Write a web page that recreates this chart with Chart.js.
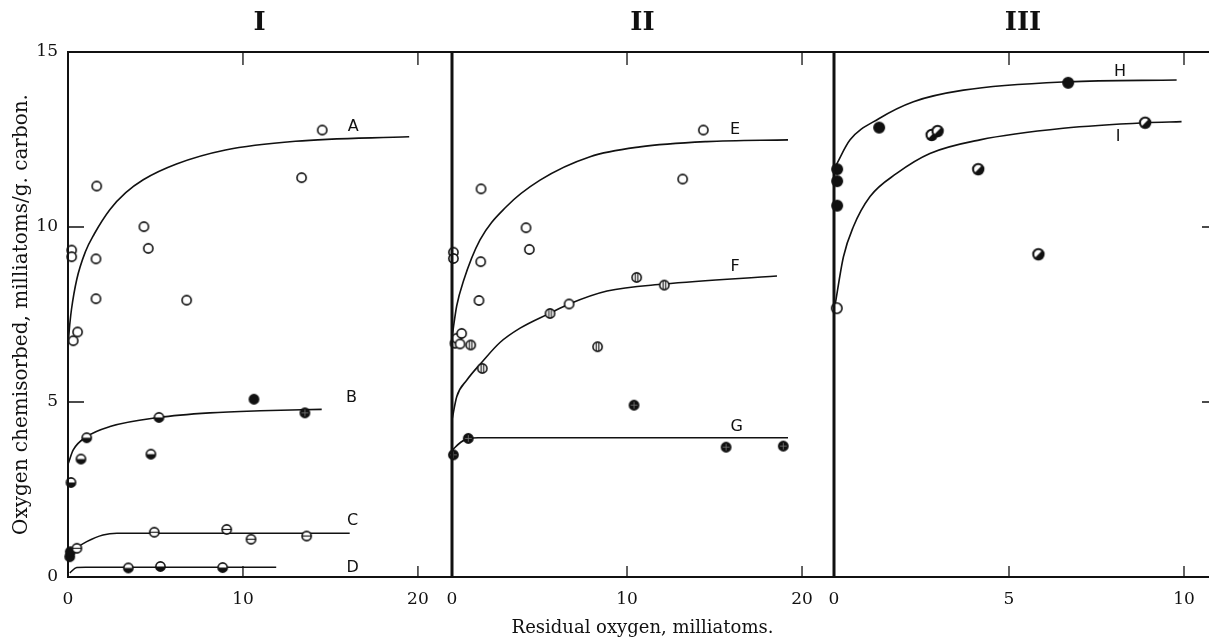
<!DOCTYPE html>
<html>
<head>
<meta charset="utf-8">
<script src="https://cdn.jsdelivr.net/npm/chart.js@4.4.1/dist/chart.umd.min.js"></script>
<style>
  html, body { margin: 0; padding: 0; background: #fff; overflow: hidden; width: 1209px; height: 644px; }
  .panel { position: absolute; top: 0; height: 644px; }
  #p1 { left: 0; width: 460px; }
  #p2 { left: 400px; width: 440px; }
  #p3 { left: 780px; width: 440px; }
</style>
</head>
<body>
<div class="panel" id="p1"><canvas id="c1" width="460" height="644"></canvas></div>
<div class="panel" id="p2"><canvas id="c2" width="440" height="644"></canvas></div>
<div class="panel" id="p3"><canvas id="c3" width="440" height="644"></canvas></div>
<script>
// ---- panel I ----
const aX = [0.21, 0.21, 0.3, 0.55, 1.6, 1.6, 1.64, 4.34, 4.59, 6.78, 13.35, 14.53];
const aY = [9.34, 9.15, 6.75, 7.0, 7.95, 9.09, 11.17, 10.01, 9.39, 7.91, 11.41, 12.77];
const aCurveX = [0.03, 0.11, 0.2, 0.5, 1.0, 1.5, 2.4, 3.3, 4.3, 6.2, 9.0, 13.0, 19.5];
const aCurveY = [6.8, 7.26, 7.65, 8.5, 9.3, 9.8, 10.5, 10.98, 11.35, 11.8, 12.2, 12.45, 12.58];

const bX = [0.17, 0.74, 1.07, 4.74, 5.2, 10.63, 13.54];
const bY = [2.7, 3.37, 3.98, 3.51, 4.56, 5.08, 4.69];
const bMarks = ['half', 'half', 'half', 'half', 'half', 'filled', 'cross'];
const bCurveX = [0.02, 0.3, 1.07, 2.4, 5.2, 8.1, 11.0, 14.5];
const bCurveY = [3.25, 3.63, 4.01, 4.3, 4.56, 4.69, 4.75, 4.79];

const cX = [0.1, 0.13, 0.51, 4.93, 9.07, 10.46, 13.64];
const cY = [0.58, 0.72, 0.82, 1.28, 1.36, 1.08, 1.17];
const cMarks = ['filled', 'filled', 'hbar', 'hbar', 'hbar', 'hbar', 'hbar'];
const cCurveX = [0.05, 0.5, 1.07, 2.0, 2.8, 16.1];
const cCurveY = [0.6, 0.83, 1.01, 1.2, 1.25, 1.25];

const dX = [3.45, 5.28, 8.84];
const dY = [0.26, 0.3, 0.27];
const dCurveX = [0.1, 0.5, 1.0, 11.9];
const dCurveY = [0.12, 0.27, 0.28, 0.28];

// ---- panel II ----
const eX = [0.08, 0.08, 0.17, 0.27, 0.46, 0.55, 1.54, 1.64, 1.66, 4.23, 4.42, 13.18, 14.36];
const eY = [9.28, 9.1, 6.68, 6.82, 6.66, 6.96, 7.9, 9.01, 11.09, 9.98, 9.36, 11.37, 12.77];
const eCurveX = [0.02, 0.1, 0.27, 0.65, 1.6, 3.1, 5.03, 7.89, 10.74, 14.55, 19.2];
const eCurveY = [6.9, 7.2, 7.75, 8.45, 9.63, 10.58, 11.34, 12.01, 12.29, 12.44, 12.49];

const fX = [1.07, 1.73, 5.6, 6.69, 8.32, 10.55, 12.13];
const fY = [6.63, 5.96, 7.53, 7.8, 6.58, 8.56, 8.34];
const fMarks = ['vbar', 'vbar', 'vbar', 'open', 'vbar', 'vbar', 'vbar'];
const fCurveX = [0, 0.27, 0.84, 1.73, 2.74, 3.89, 5.6, 6.69, 8.86, 12.11, 18.57];
const fCurveY = [4.49, 5.15, 5.62, 6.15, 6.7, 7.11, 7.54, 7.8, 8.17, 8.37, 8.6];

const gX = [0.08, 0.93, 10.4, 15.66, 18.93];
const gY = [3.49, 3.96, 4.91, 3.71, 3.74];
const gCurveX = [0, 0.5, 0.93, 1.5, 19.2];
const gCurveY = [3.62, 3.85, 3.96, 3.98, 3.98];

// ---- panel III ----
const hX = [0.09, 0.09, 0.09, 1.29, 6.69];
const hY = [11.65, 11.31, 10.61, 12.84, 14.12];
const hCurveX = [0.05, 0.46, 1.29, 2.27, 3.7, 6.69, 9.79];
const hCurveY = [11.75, 12.49, 13.1, 13.58, 13.91, 14.15, 14.2];

const iX = [0.08, 2.79, 2.96, 4.12, 5.84, 8.89];
const iY = [7.68, 12.63, 12.74, 11.65, 9.22, 12.98];
const iMarks = ['open', 'diag', 'diag', 'diag', 'diag', 'diag'];
const iCurveX = [0.02, 0.27, 0.55, 1.03, 1.79, 2.74, 4.17, 6.55, 8.89, 9.93];
const iCurveY = [7.7, 9.15, 10.0, 10.87, 11.53, 12.1, 12.49, 12.82, 12.98, 13.01];

// axes
const xTicksWide = [0, 10, 20];
const xTicksNarrow = [0, 5, 10];
const yTicks = [0, 5, 10, 15];
const panelNames = ['I', 'II', 'III'];
const curveLabels1 = [['A', 16.3, 12.86], ['B', 16.2, 5.11], ['C', 16.27, 1.6], ['D', 16.27, 0.25]];
const curveLabels2 = [['E', 16.17, 12.77], ['F', 16.17, 8.87], ['G', 16.27, 4.29]];
const curveLabels3 = [['H', 8.17, 14.44], ['I', 8.12, 12.58]];

const INK = '#111';
const SERIF = "'DejaVu Serif', 'Liberation Serif', serif";

function pts(xs, ys) {
  return xs.map((x, i) => ({ x: x, y: ys[i] }));
}

function marker(kind, r) {
  const s = Math.ceil(r * 2 + 5);
  const c = document.createElement('canvas');
  c.width = s; c.height = s;
  const g = c.getContext('2d');
  const m = s / 2;
  g.strokeStyle = INK;
  g.fillStyle = INK;
  g.lineWidth = 1.6;
  const circle = () => { g.beginPath(); g.arc(m, m, r, 0, Math.PI * 2); };
  if (kind === 'filled') {
    circle(); g.fill(); g.stroke();
    return c;
  }
  if (kind === 'cross') {
    circle(); g.fill(); g.stroke();
    g.strokeStyle = '#777'; g.lineWidth = 0.8;
    g.beginPath();
    g.moveTo(m - r + 1.2, m); g.lineTo(m + r - 1.2, m);
    g.moveTo(m, m - r + 1.2); g.lineTo(m, m + r - 1.2);
    g.stroke();
    return c;
  }
  g.fillStyle = '#fff';
  circle(); g.fill();
  g.fillStyle = INK;
  if (kind === 'half') {
    g.beginPath(); g.arc(m, m, r, 0, Math.PI); g.closePath(); g.fill();
  } else if (kind === 'diag') {
    g.beginPath(); g.arc(m, m, r, -Math.PI / 4, Math.PI * 3 / 4); g.closePath(); g.fill();
    g.lineWidth = 2;
  }
  circle(); g.stroke();
  g.lineWidth = 1.1;
  if (kind === 'hbar') {
    g.beginPath(); g.moveTo(m - r, m); g.lineTo(m + r, m); g.stroke();
  } else if (kind === 'vbar') {
    g.beginPath();
    g.moveTo(m - 1.3, m - r + 0.6); g.lineTo(m - 1.3, m + r - 0.6);
    g.moveTo(m + 1.3, m - r + 0.6); g.lineTo(m + 1.3, m + r - 0.6);
    g.stroke();
  }
  return c;
}

const mk = {};
['open', 'filled', 'half', 'hbar', 'vbar', 'cross', 'diag'].forEach(k => { mk[k] = marker(k, 4.6); });
const mkBig = {};
['open', 'filled', 'diag'].forEach(k => { mkBig[k] = marker(k, 5.2); });

function pointSet(xs, ys, marks, set) {
  return {
    data: pts(xs, ys),
    showLine: false,
    pointStyle: marks.map(k => set[k]),
    pointRadius: 5,
    clip: false,
    order: 0
  };
}

function curveSet(xs, ys) {
  return {
    data: pts(xs, ys),
    showLine: true,
    borderColor: INK,
    borderWidth: 1.6,
    pointRadius: 0,
    cubicInterpolationMode: 'monotone',
    fill: false,
    order: 1
  };
}

const framePlugin = {
  id: 'frame',
  afterDraw(chart, args, o) {
    const { ctx, chartArea: a, scales } = chart;
    const xs = scales.x, ys = scales.y;
    ctx.save();
    ctx.strokeStyle = INK;
    ctx.lineWidth = 2;
    ctx.beginPath();
    ctx.moveTo(a.left, a.top); ctx.lineTo(a.right, a.top);
    ctx.moveTo(a.left, a.bottom); ctx.lineTo(a.right, a.bottom);
    ctx.stroke();
    ctx.lineWidth = o.leftWidth;
    ctx.beginPath();
    ctx.moveTo(a.left, a.top - 1); ctx.lineTo(a.left, a.bottom + 1);
    ctx.stroke();

    // inward tick marks
    ctx.lineWidth = 1.3;
    ctx.beginPath();
    o.xTicks.forEach(v => {
      if (v <= xs.min) return;
      const px = xs.getPixelForValue(v);
      ctx.moveTo(px, a.top); ctx.lineTo(px, a.top + 13);
      ctx.moveTo(px, a.bottom); ctx.lineTo(px, a.bottom - 11);
    });
    yTicks.forEach(v => {
      if (v <= ys.min || v >= ys.max || !o.ySide) return;
      const py = ys.getPixelForValue(v);
      if (o.ySide === 'left') { ctx.moveTo(a.left, py); ctx.lineTo(a.left + 16, py); }
      else { ctx.moveTo(a.right, py); ctx.lineTo(a.right - 10, py); }
    });
    ctx.stroke();

    // panel name
    ctx.fillStyle = INK;
    ctx.textAlign = 'center';
    ctx.textBaseline = 'middle';
    ctx.font = "bold 26px " + SERIF;
    ctx.fillText(o.name, (a.left + a.right) / 2, 23);

    // curve letters
    ctx.font = "16px 'DejaVu Sans', 'Liberation Sans', sans-serif";
    o.labels.forEach(l => {
      ctx.fillText(l[0], xs.getPixelForValue(l[1]), ys.getPixelForValue(l[2]));
    });
    ctx.restore();
  }
};

function makeChart(id, cfg) {
  const first = cfg.first;
  return new Chart(document.getElementById(id), {
    type: 'scatter',
    data: { datasets: cfg.datasets },
    options: {
      responsive: false,
      animation: false,
      layout: { padding: { top: 52, left: cfg.padLeft, right: cfg.padRight, bottom: 0 } },
      plugins: {
        legend: { display: false },
        tooltip: { enabled: false },
        frame: { name: cfg.name, xTicks: cfg.xTicks, ySide: cfg.ySide, leftWidth: cfg.leftWidth, labels: cfg.labels }
      },
      scales: {
        x: {
          type: 'linear',
          min: 0,
          max: cfg.xMax,
          grid: { display: false, drawTicks: false },
          border: { display: false },
          afterBuildTicks: s => { s.ticks = cfg.xTicks.map(v => ({ value: v })); },
          afterFit: s => { s.height = 67; },
          ticks: {
            padding: 12,
            maxRotation: 0,
            color: INK,
            font: { family: SERIF, size: 17 }
          },
          title: {
            display: !!cfg.xTitle,
            text: cfg.xTitle || '',
            color: INK,
            font: { family: SERIF, size: 18 },
            padding: { top: 0, bottom: 5 }
          }
        },
        y: {
          type: 'linear',
          min: 0,
          max: 15,
          grid: { display: false, drawTicks: false },
          border: { display: false },
          afterBuildTicks: s => { s.ticks = yTicks.map(v => ({ value: v })); },
          afterFit: s => { s.width = first ? 68 : 0; },
          ticks: {
            display: first,
            padding: 10,
            color: INK,
            font: { family: SERIF, size: 17 }
          },
          title: {
            display: first,
            text: 'Oxygen chemisorbed, milliatoms/g. carbon.',
            color: INK,
            font: { family: SERIF, size: 20 },
            padding: { top: 10, bottom: 0 }
          }
        }
      }
    },
    plugins: [framePlugin]
  });
}

makeChart('c1', {
  first: true,
  name: panelNames[0],
  xMax: 21.89,
  padLeft: 0,
  padRight: 9,
  xTicks: xTicksWide,
  ySide: 'left',
  leftWidth: 2,
  labels: curveLabels1,
  datasets: [
    curveSet(aCurveX, aCurveY),
    curveSet(bCurveX, bCurveY),
    curveSet(cCurveX, cCurveY),
    curveSet(dCurveX, dCurveY),
    pointSet(aX, aY, aX.map(() => 'open'), mk),
    pointSet(bX, bY, bMarks, mk),
    pointSet(cX, cY, cMarks, mk),
    pointSet(dX, dY, dX.map(() => 'half'), mk)
  ]
});

makeChart('c2', {
  first: false,
  name: panelNames[1],
  xMax: 21.77,
  padLeft: 52,
  padRight: 7,
  xTicks: xTicksWide,
  ySide: null,
  leftWidth: 3,
  labels: curveLabels2,
  xTitle: 'Residual oxygen, milliatoms.',
  datasets: [
    curveSet(eCurveX, eCurveY),
    curveSet(fCurveX, fCurveY),
    curveSet(gCurveX, gCurveY),
    pointSet(eX, eY, eX.map(() => 'open'), mk),
    pointSet(fX, fY, fMarks, mk),
    pointSet(gX, gY, gX.map(() => 'cross'), mk)
  ]
});

makeChart('c3', {
  first: false,
  name: panelNames[2],
  xMax: 10.8,
  padLeft: 54,
  padRight: 8,
  xTicks: xTicksNarrow,
  ySide: 'right',
  leftWidth: 3,
  labels: curveLabels3,
  datasets: [
    curveSet(hCurveX, hCurveY),
    curveSet(iCurveX, iCurveY),
    pointSet(hX, hY, hX.map(() => 'filled'), mkBig),
    pointSet(iX, iY, iMarks, mkBig)
  ]
});
</script>
</body>
</html>
